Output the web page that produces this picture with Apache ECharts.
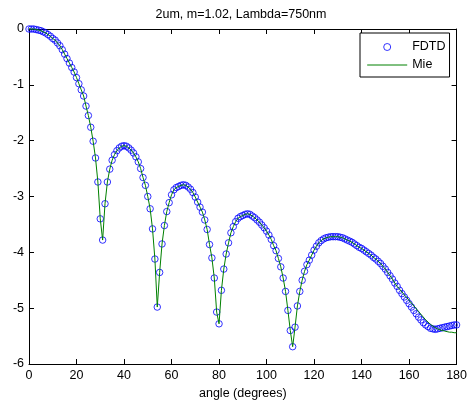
<!DOCTYPE html>
<html><head><meta charset="utf-8">
<script src="https://cdn.jsdelivr.net/npm/echarts@6/dist/echarts.min.js"></script>
<style>html,body{margin:0;padding:0;background:#fff}#c{width:470px;height:405px}</style>
</head><body><div id="c"></div>
<script>
const titleText = '2um, m=1.02, Lambda=750nm';
const xName = 'angle (degrees)';
const seriesNames = ['FDTD', 'Mie'];
const xTickLabels = [0, 20, 40, 60, 80, 100, 120, 140, 160, 180];
const yTickLabels = [0, -1, -2, -3, -4, -5, -6];

const angles = [
0,1,2,3,4,5,6,7,8,9,10,11,12,13,14,15,16,17,18,19,
20,21,22,23,24,25,26,27,28,29,30,31,32,33,34,35,36,37,38,39,
40,41,42,43,44,45,46,47,48,49,50,51,52,53,54,55,56,57,58,59,
60,61,62,63,64,65,66,67,68,69,70,71,72,73,74,75,76,77,78,79,
80,81,82,83,84,85,86,87,88,89,90,91,92,93,94,95,96,97,98,99,
100,101,102,103,104,105,106,107,108,109,110,111,112,113,114,115,116,117,118,119,
120,121,122,123,124,125,126,127,128,129,130,131,132,133,134,135,136,137,138,139,
140,141,142,143,144,145,146,147,148,149,150,151,152,153,154,155,156,157,158,159,
160,161,162,163,164,165,166,167,168,169,170,171,172,173,174,175,176,177,178,179,180];

const fdtd = [
0,0,0,-0.01,-0.02,-0.03,-0.05,-0.07,-0.10,-0.13,
-0.17,-0.20,-0.25,-0.30,-0.37,-0.45,-0.53,-0.61,-0.69,-0.77,
-0.87,-0.98,-1.09,-1.20,-1.38,-1.55,-1.76,-2.01,-2.31,-2.74,
-3.40,-3.78,-3.13,-2.74,-2.51,-2.35,-2.25,-2.18,-2.13,-2.10,
-2.09,-2.10,-2.13,-2.17,-2.22,-2.29,-2.38,-2.50,-2.66,-2.80,
-3.00,-3.22,-3.58,-4.12,-4.98,-4.36,-3.85,-3.52,-3.27,-3.11,
-2.97,-2.88,-2.84,-2.82,-2.80,-2.79,-2.80,-2.83,-2.87,-2.93,
-3.01,-3.10,-3.19,-3.28,-3.42,-3.59,-3.86,-4.10,-4.46,-5.07,
-5.28,-4.68,-4.30,-4.03,-3.83,-3.65,-3.54,-3.45,-3.39,-3.36,
-3.34,-3.32,-3.31,-3.32,-3.35,-3.38,-3.42,-3.46,-3.51,-3.56,
-3.62,-3.69,-3.77,-3.88,-3.97,-4.11,-4.26,-4.46,-4.70,-5.04,
-5.40,-5.69,-5.34,-4.96,-4.70,-4.50,-4.34,-4.22,-4.14,-4.05,
-3.96,-3.89,-3.83,-3.79,-3.76,-3.74,-3.73,-3.72,-3.72,-3.72,
-3.72,-3.73,-3.74,-3.76,-3.78,-3.80,-3.82,-3.85,-3.88,-3.91,
-3.93,-3.96,-3.99,-4.02,-4.05,-4.09,-4.12,-4.16,-4.20,-4.25,
-4.30,-4.36,-4.42,-4.48,-4.55,-4.61,-4.68,-4.74,-4.80,-4.86,
-4.92,-4.98,-5.04,-5.10,-5.16,-5.21,-5.26,-5.30,-5.33,-5.36,
-5.37,-5.38,-5.37,-5.36,-5.35,-5.34,-5.33,-5.32,-5.31,-5.30,
-5.30];

const mie = [
0,0,0,-0.01,-0.02,-0.03,-0.05,-0.07,-0.10,-0.13,
-0.17,-0.20,-0.25,-0.30,-0.37,-0.45,-0.53,-0.61,-0.69,-0.77,
-0.87,-0.98,-1.09,-1.20,-1.38,-1.55,-1.76,-2.01,-2.31,-2.74,
-3.40,-3.78,-3.13,-2.74,-2.51,-2.35,-2.25,-2.18,-2.13,-2.10,
-2.09,-2.10,-2.13,-2.17,-2.22,-2.29,-2.38,-2.50,-2.66,-2.80,
-3.00,-3.22,-3.58,-4.12,-4.98,-4.36,-3.85,-3.52,-3.27,-3.11,
-2.97,-2.88,-2.84,-2.82,-2.80,-2.79,-2.80,-2.83,-2.87,-2.93,
-3.01,-3.10,-3.19,-3.28,-3.42,-3.59,-3.86,-4.10,-4.46,-5.07,
-5.28,-4.68,-4.30,-4.03,-3.83,-3.65,-3.54,-3.45,-3.39,-3.36,
-3.34,-3.32,-3.31,-3.32,-3.35,-3.38,-3.42,-3.46,-3.51,-3.56,
-3.62,-3.69,-3.77,-3.88,-3.97,-4.11,-4.26,-4.46,-4.70,-5.04,
-5.40,-5.69,-5.34,-4.96,-4.70,-4.50,-4.34,-4.22,-4.14,-4.05,
-3.96,-3.89,-3.83,-3.79,-3.76,-3.74,-3.73,-3.72,-3.72,-3.72,
-3.72,-3.73,-3.74,-3.76,-3.78,-3.80,-3.82,-3.85,-3.88,-3.91,
-3.93,-3.96,-3.99,-4.02,-4.05,-4.09,-4.12,-4.16,-4.20,-4.25,
-4.30,-4.36,-4.42,-4.48,-4.55,-4.61,-4.66,-4.71,-4.76,-4.81,
-4.86,-4.91,-4.96,-5.01,-5.06,-5.11,-5.16,-5.21,-5.25,-5.29,
-5.32,-5.35,-5.37,-5.39,-5.40,-5.41,-5.42,-5.43,-5.43,-5.44,
-5.44];

const font = '"Liberation Sans", Arial, Helvetica, sans-serif';
const fs = 12.5;
const txt = { fontFamily: font, fontSize: fs, color: '#000' };

function axisBase(extra) {
  return Object.assign({
    type: 'value',
    axisLine: { show: true, onZero: false, lineStyle: { color: '#000', width: 1 } },
    axisTick: { show: true, inside: true, length: 5, lineStyle: { color: '#000', width: 1 } },
    splitLine: { show: false }
  }, extra);
}

const chart = echarts.init(document.getElementById('c'), null, { renderer: 'canvas' });
chart.setOption({
  animation: false,
  backgroundColor: '#fff',
  title: {
    text: titleText, left: 241, top: 8, padding: 0, textAlign: 'center',
    textStyle: Object.assign({ fontWeight: 'normal' }, txt)
  },
  grid: { left: 29, top: 29, right: 13, bottom: 41 },
  legend: {
    orient: 'vertical', left: 360, top: 33,
    padding: [7, 4, 5, 6.7], itemGap: 4, itemWidth: 40, itemHeight: 7,
    backgroundColor: '#fff', borderColor: '#000', borderWidth: 1, borderRadius: 0,
    textStyle: Object.assign({ lineHeight: 14 }, txt),
    data: [
      { name: seriesNames[0], icon: 'circle', itemStyle: { color: 'rgba(0,0,0,0)', borderColor: '#0000ff', borderWidth: 1 } },
      { name: seriesNames[1], itemStyle: { color: 'rgba(0,0,0,0)', borderColor: 'rgba(0,0,0,0)', borderWidth: 0, opacity: 0 },
        lineStyle: { color: '#008000', width: 1 } }
    ]
  },
  xAxis: [
    axisBase({
      position: 'bottom', min: xTickLabels[0], max: xTickLabels[xTickLabels.length - 1], interval: 20,
      name: xName, nameLocation: 'middle', nameGap: 21, nameTextStyle: txt,
      axisLabel: Object.assign({ margin: 5, formatter: v => String(xTickLabels[xTickLabels.indexOf(v)]) }, txt)
    }),
    axisBase({
      position: 'top', min: xTickLabels[0], max: xTickLabels[xTickLabels.length - 1], interval: 20,
      axisLabel: { show: false }
    })
  ],
  yAxis: [
    axisBase({
      position: 'left', min: yTickLabels[yTickLabels.length - 1], max: yTickLabels[0], interval: 1,
      axisLabel: Object.assign({ margin: 5, formatter: v => String(yTickLabels[yTickLabels.indexOf(v)]) }, txt)
    }),
    axisBase({
      position: 'right', min: yTickLabels[yTickLabels.length - 1], max: yTickLabels[0], interval: 1,
      axisLabel: { show: false }
    })
  ],
  series: [
    {
      type: 'scatter', name: seriesNames[0], xAxisIndex: 0, yAxisIndex: 0,
      data: angles.map((a, i) => [a, fdtd[i]]),
      symbol: 'circle', symbolSize: 6.5, clip: false, z: 2,
      itemStyle: { color: 'rgba(0,0,0,0)', borderColor: '#0000ff', borderWidth: 1 },
      emphasis: { disabled: true }
    },
    {
      type: 'line', name: seriesNames[1], xAxisIndex: 0, yAxisIndex: 0,
      data: angles.map((a, i) => [a, mie[i]]),
      symbol: 'none', showSymbol: false, clip: false, z: 3,
      lineStyle: { color: '#008000', width: 1 }, itemStyle: { color: '#008000' },
      emphasis: { disabled: true }
    }
  ]
});
</script>
</body></html>
